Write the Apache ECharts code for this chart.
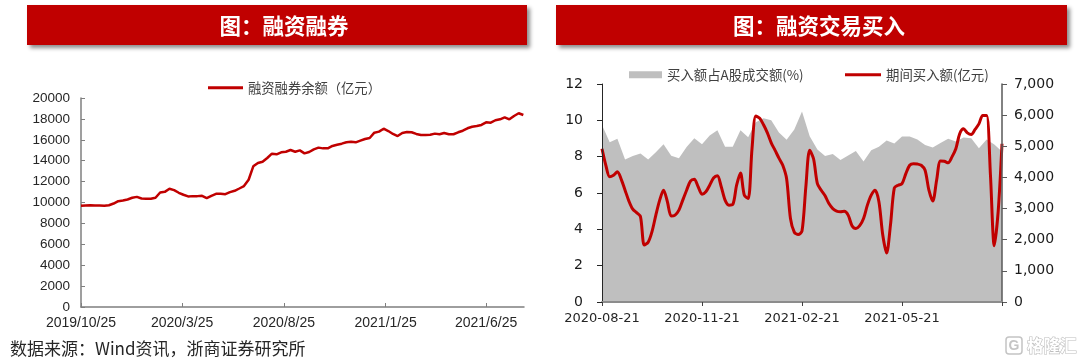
<!DOCTYPE html>
<html>
<head>
<meta charset="utf-8">
<title>融资融券</title>
<script src="https://cdn.jsdelivr.net/npm/echarts@6/dist/echarts.min.js"></script>
<style>
  html, body { margin: 0; padding: 0; background: #fff; }
  #chart { width: 1080px; height: 363px; }
</style>
</head>
<body>
<div id="chart"></div>
<script>
const CJK = '"Noto Sans CJK SC", "Liberation Sans", sans-serif'
const RED = '#C00000'

// left chart: weekly balance, first point 2019/10/25
const balanceValues = [
  9680, 9710, 9740, 9710, 9710, 9680, 9740, 9900, 10130, 10190, 10290, 10450,
  10540, 10380, 10350, 10350, 10450, 10960, 11020, 11310, 11180, 10930, 10740, 10580,
  10610, 10610, 10640, 10420, 10640, 10830, 10830, 10800, 10990, 11120, 11340, 11570,
  12180, 13460, 13780, 13900, 14260, 14670, 14610, 14800, 14860, 15020, 14860, 14990,
  14700, 14830, 15090, 15250, 15180, 15180, 15410, 15530, 15630, 15760, 15820, 15760,
  15920, 16080, 16170, 16680, 16780, 17060, 16840, 16560, 16360, 16650, 16750, 16720,
  16560, 16460, 16460, 16490, 16590, 16530, 16650, 16530, 16530, 16720, 16870, 17100,
  17250, 17320, 17420, 17670, 17640, 17870, 17960, 18150, 17960, 18280, 18540, 18370
]
const balanceTicks = ['2019/10/25', '2020/3/25', '2020/8/25', '2021/1/25', '2021/6/25']
// days since 2019/10/25 for each label above
const balanceTickDays = [0, 152, 305, 458, 609]

// right chart: 53 weekly ratios, buy amount read at half-week steps
const weekTicks = ['2020-08-21', '2020-11-21', '2021-02-21', '2021-05-21', '']
const buyRatio = [
  9.75, 8.8, 8.98, 7.84, 8.03, 8.18, 7.84, 8.25, 8.69, 8.05, 7.91, 8.53, 9.02, 8.69,
  9.17, 9.46, 8.55, 8.55, 9.46, 9.07, 9.9, 10.12, 10.0, 9.33, 8.93, 9.5, 10.48, 9.13,
  8.4, 8.03, 8.14, 7.82, 8.07, 8.31, 7.74, 8.36, 8.55, 8.89, 8.73, 9.11, 9.11, 8.95,
  8.64, 8.51, 8.75, 8.98, 8.84, 9.06, 9.02, 8.47, 8.95, 8.67, 8.29
]
const buyAmount = [
  4920, 4390, 4020, 4070, 4180, 3940, 3590, 3240, 2980, 2870, 2740, 1830, 1920, 2260,
  2790, 3270, 3590, 3220, 2760, 2790, 2950, 3270, 3590, 3880, 3940, 3700, 3460, 3540,
  3750, 3980, 4050, 3700, 3270, 3110, 3130, 3750, 4140, 3430, 3320, 4920, 5970, 5900,
  5690, 5430, 5110, 4870, 4620, 4390, 3960, 2680, 2240, 2170,
  2280, 3700, 4870, 4600, 3800, 3590, 3410, 3160, 3000, 2920, 2900, 2910, 2790, 2450,
  2360, 2450, 2680, 3110, 3430, 3590, 3220, 2150, 1570, 2470, 3660, 3750, 3800, 4120,
  4390, 4440, 4430, 4390, 4230, 3590, 3240, 3910, 4530, 4520, 4470, 4660, 4920, 5400,
  5560, 5430, 5380, 5540, 5720, 5990, 5990, 4070, 1810, 2900, 5080
]

const balanceData = balanceValues.map((v, i) => [i * 7, v])

const option = {
  animation: false,
  backgroundColor: '#fff',
  textStyle: { fontFamily: CJK },
  graphic: [
    {
      type: 'rect',
      shape: { x: 27, y: 5, width: 500, height: 40 },
      style: { fill: RED, shadowBlur: 4, shadowOffsetX: 3, shadowOffsetY: 3, shadowColor: 'rgba(0,0,0,0.45)' }
    },
    {
      type: 'rect',
      shape: { x: 556, y: 5, width: 511, height: 40 },
      style: { fill: RED, shadowBlur: 4, shadowOffsetX: 3, shadowOffsetY: 3, shadowColor: 'rgba(0,0,0,0.45)' }
    },
    {
      type: 'text', x: 284, y: 26,
      style: { text: '图：融资融券', fill: '#fff', font: 'bold 21.5px ' + CJK, textAlign: 'center', textVerticalAlign: 'middle' }
    },
    {
      type: 'text', x: 819, y: 26,
      style: { text: '图：融资交易买入', fill: '#fff', font: 'bold 21.5px ' + CJK, textAlign: 'center', textVerticalAlign: 'middle' }
    },
    {
      type: 'text', x: 10, y: 349,
      style: { text: '数据来源：Wind资讯，浙商证券研究所', fill: '#262626', font: '17px ' + CJK, textVerticalAlign: 'middle' }
    },
    {
      type: 'rect',
      shape: { x: 1006, y: 337, width: 16, height: 17, r: 3 },
      style: { fill: '#fff', stroke: '#c4c4c4', lineWidth: 1.5 }
    },
    {
      type: 'text', x: 1014, y: 346,
      style: { text: 'G', fill: '#c4c4c4', font: 'bold 14px "Liberation Sans"', textAlign: 'center', textVerticalAlign: 'middle' }
    },
    {
      type: 'text', x: 1027, y: 346,
      style: { text: '格隆汇', fill: '#fff', stroke: '#bdbdbd', lineWidth: 1.2, font: 'bold 16.5px ' + CJK, textVerticalAlign: 'middle' }
    }
  ],
  legend: [
    {
      data: [{ name: '融资融券余额（亿元）', icon: 'rect' }],
      left: 203, top: 76, itemWidth: 35, itemHeight: 3, itemGap: 4,
      textStyle: { fontSize: 13.3, color: '#404040', fontFamily: CJK }
    },
    {
      data: [{ name: '买入额占A股成交额(%)', icon: 'rect' }],
      left: 624, top: 63, itemWidth: 33, itemHeight: 7, itemGap: 4,
      textStyle: { fontSize: 13.4, color: '#404040', fontFamily: CJK }
    },
    {
      data: [{ name: '期间买入额(亿元)', icon: 'rect' }],
      left: 840, top: 63, itemWidth: 36, itemHeight: 3, itemGap: 3,
      textStyle: { fontSize: 13.4, color: '#404040', fontFamily: CJK }
    }
  ],
  grid: [
    { left: 81, top: 98, width: 443, height: 209 },
    { left: 602, top: 84, width: 400, height: 218 }
  ],
  xAxis: [
    {
      type: 'value',
      gridIndex: 0,
      min: 0,
      max: 666,
      axisLine: { lineStyle: { color: '#7f7f7f', width: 1.5 } },
      axisTick: { show: true, inside: true, length: 4, customValues: balanceTickDays, lineStyle: { color: '#7f7f7f' } },
      axisLabel: {
        customValues: balanceTickDays,
        margin: 9,
        color: '#262626',
        fontSize: 14,
        fontFamily: '"Liberation Sans", Arial, sans-serif',
        formatter: (v) => balanceTicks[balanceTickDays.indexOf(v)] || ''
      },
      splitLine: { show: false }
    },
    {
      type: 'category',
      gridIndex: 1,
      boundaryGap: false,
      data: buyRatio.map((v, i) => i),
      z: 5,
      axisLine: { lineStyle: { color: '#8c8c8c', width: 2 } },
      axisTick: { show: true, interval: 12, length: 4, lineStyle: { color: '#404040' } },
      axisLabel: {
        interval: 12,
        margin: 10,
        color: '#262626',
        fontSize: 13,
        fontFamily: '"DejaVu Sans", sans-serif',
        formatter: (v) => weekTicks[Number(v) / 13] || ''
      },
      splitLine: { show: false }
    },
    {
      // half-week positions for the buy amount line, same span as the ratio axis
      type: 'category',
      gridIndex: 1,
      show: false,
      boundaryGap: false,
      data: buyAmount.map((v, i) => i)
    }
  ],
  yAxis: [
    {
      type: 'value',
      gridIndex: 0,
      min: 0,
      max: 20000,
      interval: 2000,
      axisLine: { show: true, lineStyle: { color: '#7f7f7f', width: 1.5 } },
      axisTick: { show: true, inside: true, length: 4, lineStyle: { color: '#7f7f7f' } },
      axisLabel: {
        margin: 11,
        color: '#262626',
        fontSize: 13.5,
        fontFamily: '"Liberation Sans", Arial, sans-serif',
        formatter: (v) => String(v)
      },
      splitLine: { show: false }
    },
    {
      type: 'value',
      gridIndex: 1,
      position: 'left',
      min: 0,
      max: 12,
      interval: 2,
      z: 5,
      axisLine: { show: true, lineStyle: { color: '#262626' } },
      axisTick: { show: true, length: 5, lineStyle: { color: '#262626' } },
      axisLabel: { margin: 19, color: '#1a1a1a', fontSize: 14, fontFamily: '"DejaVu Sans", sans-serif' },
      splitLine: { show: false }
    },
    {
      type: 'value',
      gridIndex: 1,
      position: 'right',
      min: 0,
      max: 7000,
      interval: 1000,
      z: 5,
      axisLine: { show: true, lineStyle: { color: '#595959', width: 1.5 } },
      axisTick: { show: true, length: 5, lineStyle: { color: '#595959' } },
      axisLabel: {
        margin: 12,
        color: '#1a1a1a',
        fontSize: 14,
        fontFamily: '"DejaVu Sans", sans-serif',
        formatter: (v) => v.toLocaleString('en-US')
      },
      splitLine: { show: false }
    }
  ],
  series: [
    {
      name: '融资融券余额（亿元）',
      type: 'line',
      xAxisIndex: 0,
      yAxisIndex: 0,
      data: balanceData,
      symbol: 'none',
      lineStyle: { color: RED, width: 2.5 },
      itemStyle: { color: RED }
    },
    {
      name: '买入额占A股成交额(%)',
      type: 'line',
      xAxisIndex: 1,
      yAxisIndex: 1,
      data: buyRatio,
      symbol: 'none',
      lineStyle: { width: 0 },
      areaStyle: { color: '#BFBFBF', opacity: 1 },
      itemStyle: { color: '#BFBFBF' }
    },
    {
      name: '期间买入额(亿元)',
      type: 'line',
      xAxisIndex: 2,
      yAxisIndex: 2,
      data: buyAmount,
      smooth: 0.3,
      symbol: 'none',
      lineStyle: { color: RED, width: 3 },
      itemStyle: { color: RED }
    }
  ]
}

const chart = echarts.init(document.getElementById('chart'), null, { renderer: 'canvas' })
chart.setOption(option)
</script>
</body>
</html>
